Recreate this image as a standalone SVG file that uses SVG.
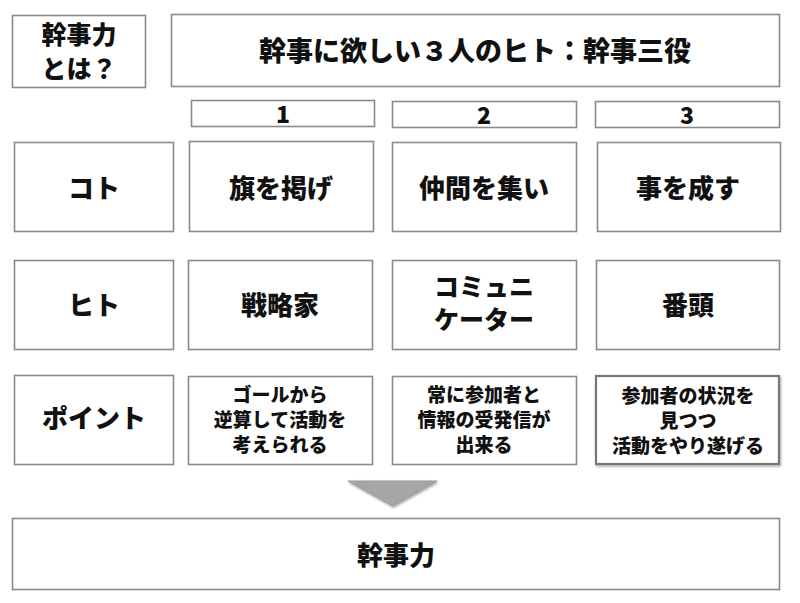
<svg xmlns="http://www.w3.org/2000/svg" width="800" height="603" viewBox="0 0 800 603">
<style>
.b{fill:#fff;stroke:#8a8a8a;stroke-width:1.6}
.b2{fill:#fff;stroke:#777;stroke-width:2.2}
text{font-family:"Noto Sans CJK JP","Noto Sans",sans-serif;font-weight:900;fill:#111;text-anchor:middle;dominant-baseline:central}
.l{font-size:26px}
.s{font-size:25px}
.t{font-size:27px}
.n{font-size:23px}
.p{font-size:19px}
</style>
<defs>
<filter id="sh" x="-10%" y="-10%" width="130%" height="140%"><feDropShadow dx="1" dy="1.5" stdDeviation="1.2" flood-color="#000" flood-opacity="0.35"/></filter>
</defs>
<rect width="800" height="603" fill="#fff"/>
<g id="intro"><rect class="b" x="12.5" y="15.5" width="133" height="72"/><text class="s" x="79" y="33">幹事力</text><text class="s" x="79" y="67">とは？</text></g>
<g id="title"><rect class="b" x="171.5" y="14.5" width="608" height="72"/><text class="t" x="475" y="49">幹事に欲しい３人のヒト：幹事三役</text></g>
<g id="num1"><rect class="b" x="191.5" y="100.5" width="183" height="26"/><text class="n" x="283" y="113">1</text></g>
<g id="num2"><rect class="b" x="392.5" y="101.5" width="184" height="26"/><text class="n" x="484" y="114">2</text></g>
<g id="num3"><rect class="b" x="595.5" y="101.5" width="184" height="26"/><text class="n" x="687" y="114">3</text></g>
<g id="koto"><rect class="b" x="14.5" y="142.5" width="159" height="89"/><text class="l" x="94" y="186">コト</text></g>
<g id="koto1"><rect class="b" x="189.5" y="141.5" width="184" height="90"/><text class="l" x="281" y="186">旗を掲げ</text></g>
<g id="koto2"><rect class="b" x="392.5" y="142.5" width="184" height="89"/><text class="l" x="484" y="186">仲間を集い</text></g>
<g id="koto3"><rect class="b" x="597.5" y="142.5" width="183" height="89"/><text class="l" x="688" y="186">事を成す</text></g>
<g id="hito"><rect class="b" x="14.5" y="260.5" width="159" height="89"/><text class="l" x="94" y="303">ヒト</text></g>
<g id="hito1"><rect class="b" x="188.5" y="260.5" width="184" height="89"/><text class="l" x="280" y="303">戦略家</text></g>
<g id="hito2"><rect class="b" x="392.5" y="260.5" width="184" height="89"/><text class="s" x="484" y="285">コミュニ</text><text class="s" x="484" y="318">ケーター</text></g>
<g id="hito3"><rect class="b" x="596.5" y="260.5" width="183" height="89"/><text class="l" x="688" y="303">番頭</text></g>
<g id="point"><rect class="b" x="14.5" y="375.5" width="159" height="89"/><text class="l" x="94" y="416">ポイント</text></g>
<g id="point1"><rect class="b" x="188.5" y="376.5" width="184" height="88"/><text class="p" x="280" y="393">ゴールから</text><text class="p" x="280" y="418">逆算して活動を</text><text class="p" x="280" y="443">考えられる</text></g>
<g id="point2"><rect class="b" x="392.5" y="376.5" width="184" height="88"/><text class="p" x="484" y="393">常に参加者と</text><text class="p" x="484" y="418">情報の受発信が</text><text class="p" x="484" y="443">出来る</text></g>
<g id="point3"><rect class="b2" x="596" y="376" width="183" height="88" filter="url(#sh)"/><text class="p" x="688" y="394">参加者の状況を</text><text class="p" x="688" y="419">見つつ</text><text class="p" x="688" y="444">活動をやり遂げる</text></g>
<g id="connectors"><polygon points="348,481 437,481 392.5,506" fill="#a6a6a6" stroke="#999" stroke-width="1" filter="url(#sh)"/></g>
<g id="result"><rect class="b" x="12.5" y="518.5" width="767" height="71"/><text class="l" x="396" y="553">幹事力</text></g>
</svg>
